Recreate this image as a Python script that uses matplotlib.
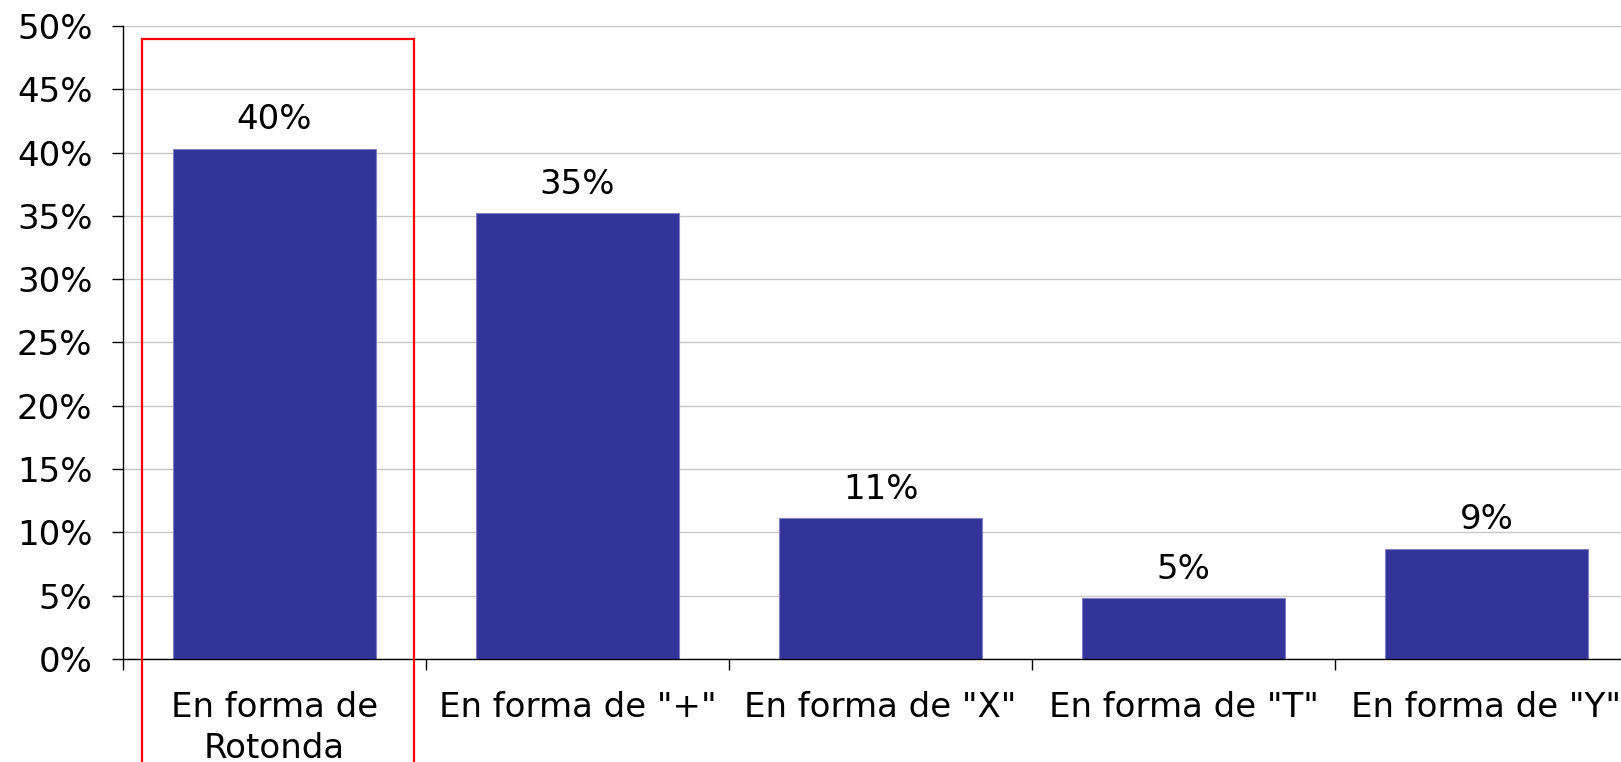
"""
Bar chart: preferred intersection type (percent of answers).
Saves out.png
"""

import matplotlib.pyplot as plt
from matplotlib.patches import Rectangle
from matplotlib.ticker import FixedLocator, PercentFormatter

# ── DATA ──────────────────────────────────────────────────────────────────────
categories = ['En forma de\nRotonda', 'En forma de "+"', 'En forma de "X"',
              'En forma de "T"', 'En forma de "Y"']
values = [40.3, 35.2, 11.1, 4.8, 8.7]
value_labels = ['40%', '35%', '11%', '5%', '9%']
y_ticks = [0, 5, 10, 15, 20, 25, 30, 35, 40, 45, 50]

# ── STYLE ─────────────────────────────────────────────────────────────────────
BAR_COLOR = '#333399'
GRID_COLOR = '#c8c8c8'
FONT_SIZE = 24.5
plt.rcParams['font.family'] = ['DejaVu Sans']

fig = plt.figure(figsize=(16.21, 7.62), dpi=100)
ax = fig.add_axes([0.0759, 0.1352, 0.9241, 0.8307])

x = list(range(len(categories)))
ax.bar(x, values, width=0.67, color=BAR_COLOR, edgecolor='#8080c0',
       linewidth=0.8, zorder=3)

for xi, v, lab in zip(x, values, value_labels):
    ax.annotate(lab, (xi, v), xytext=(0, 9), textcoords='offset points',
                ha='center', va='bottom', fontsize=FONT_SIZE, color='black')

# axes
ax.set_ylim(0, 50)
ax.set_xlim(-0.5, 4.444)
ax.set_yticks(y_ticks)
ax.yaxis.set_major_formatter(PercentFormatter(decimals=0))
ax.tick_params(axis='y', length=8, width=1, pad=14, labelsize=FONT_SIZE,
               colors='black')

# x ticks at category boundaries, labels at centres
ax.xaxis.set_major_locator(FixedLocator([i - 0.5 for i in range(len(categories) + 1)]))
ax.xaxis.set_major_formatter(plt.NullFormatter())
ax.xaxis.set_minor_locator(FixedLocator(x))
ax.set_xticklabels(categories, minor=True, linespacing=1.3)
ax.tick_params(axis='x', which='major', length=8, width=1, direction='out')
ax.tick_params(axis='x', which='minor', length=0, pad=23, labelsize=FONT_SIZE)

ax.grid(axis='y', color=GRID_COLOR, linewidth=1, zorder=0)
ax.set_axisbelow(True)
for side in ('top', 'right'):
    ax.spines[side].set_visible(False)
for side in ('left', 'bottom'):
    ax.spines[side].set_linewidth(1)
    ax.spines[side].set_color('black')
ax.spines['bottom'].set_zorder(4)

# red highlight box around the first category
ax.add_patch(Rectangle((-0.438, -12), 0.897, 61, fill=False,
                       edgecolor='red', linewidth=1.6, clip_on=False, zorder=5))

fig.savefig('out.png', dpi=100)
